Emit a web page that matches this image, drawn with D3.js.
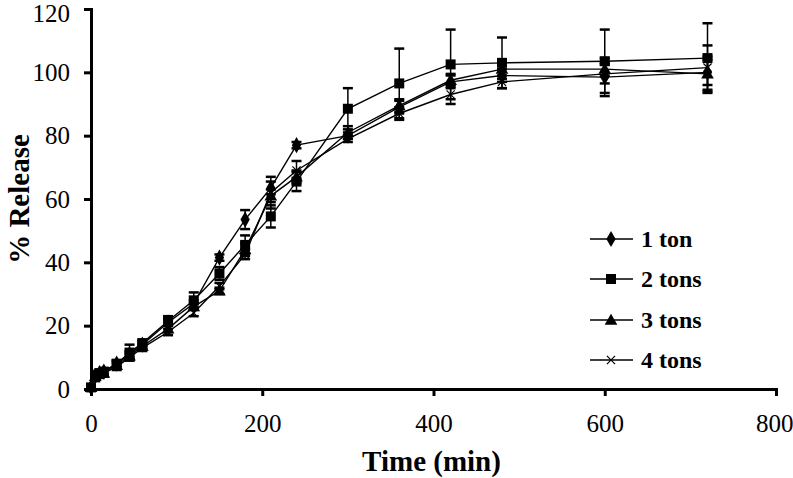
<!DOCTYPE html>
<html>
<head>
<meta charset="utf-8">
<script src="https://cdn.jsdelivr.net/npm/d3@7"></script>
<style>
  body { margin: 0; background: #fff; }
  svg { display: block; }
  text { font-family: "Liberation Serif", "Times New Roman", serif; fill: #000; }
</style>
</head>
<body>
<svg id="chart" width="793" height="478"></svg>
<script>
// sampling times (min)
const times = [0, 5, 10, 15, 30, 45, 60, 90, 120, 150, 180, 210, 240, 300, 360, 420, 480, 600, 720];

const seriesNames = ["1 ton", "2 tons", "3 tons", "4 tons"];
const seriesSymbols = ["diamond", "square", "triangle", "cross"];

// % release
const release1 = [0.5, 4, 5, 5.5, 8, 11, 14, 21, 27, 41.5, 53.5, 63.5, 77, 80, 89, 97, 99, 98.5, 100];
const release2 = [0.5, 4.5, 5, 5.5, 8, 11.5, 14.5, 21.5, 28, 36.5, 45.5, 54.5, 65.5, 88.5, 96.5, 102.5, 103, 103.5, 104.5];
const release3 = [0.5, 4, 5, 5, 7.5, 10.5, 13.5, 19, 26, 31, 44, 61, 67, 81, 89.5, 97.5, 101, 101, 99.5];
const release4 = [0.5, 3.5, 4.5, 5, 7, 10, 13, 18, 24, 32.5, 42.5, 62, 69, 79, 87, 93, 97, 99.5, 101.5];

// standard deviations
const sd1 = [0.5, 1, 1, 1, 1, 1, 1, 1, 1, 1, 3, 2, 1, 1, 2, 2, 2, 6, 4];
const sd2 = [0.5, 1, 1, 1, 1, 2.5, 1, 1.5, 2.5, 2, 3, 3.5, 3, 6.5, 11, 11, 8, 10, 11];
const sd3 = [0.5, 1, 1, 1, 1, 1, 1, 1, 1, 1, 2, 2, 2, 2, 2, 2, 3, 2, 5.5];
const sd4 = [0.5, 1, 1, 1, 1, 1, 1, 1, 1, 1, 1.5, 5, 3, 1, 2, 3, 2, 3, 7];

const xTicks = [0, 200, 400, 600, 800];
const yTicks = [0, 20, 40, 60, 80, 100, 120];

const xLabel = "Time (min)";
const yLabel = "% Release";

const series = [
  { name: seriesNames[0], symbol: seriesSymbols[0], values: release1, sd: sd1 },
  { name: seriesNames[1], symbol: seriesSymbols[1], values: release2, sd: sd2 },
  { name: seriesNames[2], symbol: seriesSymbols[2], values: release3, sd: sd3 },
  { name: seriesNames[3], symbol: seriesSymbols[3], values: release4, sd: sd4 }
];

const width = 793, height = 478;
const margin = { top: 9, right: 17, bottom: 89, left: 91 };

const svg = d3.select("#chart");

const x = d3.scaleLinear().domain([0, 800]).range([margin.left, width - margin.right]);
const y = d3.scaleLinear().domain([0, 120]).range([height - margin.bottom, margin.top]);

// draw a marker of the given kind at cx, cy
function drawMarker(g, kind, cx, cy) {
  if (kind === "diamond") {
    g.append("path")
      .attr("d", d3.symbol(d3.symbolDiamond, 75)())
      .attr("transform", "translate(" + cx + "," + cy + ")")
      .attr("fill", "#000");
  } else if (kind === "square") {
    g.append("rect")
      .attr("x", cx - 5).attr("y", cy - 5)
      .attr("width", 10).attr("height", 10)
      .attr("fill", "#000");
  } else if (kind === "triangle") {
    g.append("path")
      .attr("d", d3.symbol(d3.symbolTriangle, 70)())
      .attr("transform", "translate(" + cx + "," + (cy + 1) + ")")
      .attr("fill", "#000");
  } else {
    g.append("path")
      .attr("d", d3.symbol(d3.symbolTimes, 45)())
      .attr("transform", "translate(" + cx + "," + cy + ")")
      .attr("fill", "none")
      .attr("stroke", "#000")
      .attr("stroke-width", 1.2);
  }
}

const line = d3.line()
  .x((d, i) => x(times[i]))
  .y(d => y(d));

// error bars first, then lines and markers on top
series.forEach(s => {
  const g = svg.append("g").attr("stroke", "#000").attr("stroke-width", 1.5);
  s.values.forEach((v, i) => {
    const cx = x(times[i]);
    const top = y(v + s.sd[i]), bot = y(v - s.sd[i]);
    g.append("line").attr("x1", cx).attr("x2", cx).attr("y1", top).attr("y2", bot);
    g.append("line").attr("x1", cx - 5).attr("x2", cx + 5).attr("y1", top).attr("y2", top).attr("stroke-width", 2.5);
    g.append("line").attr("x1", cx - 5).attr("x2", cx + 5).attr("y1", bot).attr("y2", bot).attr("stroke-width", 2.5);
  });
});

series.forEach(s => {
  svg.append("path")
    .datum(s.values)
    .attr("d", line)
    .attr("fill", "none")
    .attr("stroke", "#000")
    .attr("stroke-width", 1.4);
  const g = svg.append("g");
  s.values.forEach((v, i) => drawMarker(g, s.symbol, x(times[i]), y(v)));
});

// axes
const xAxis = svg.append("g")
  .attr("transform", "translate(0," + y(0) + ")")
  .call(d3.axisBottom(x).tickValues(xTicks).tickSize(7).tickPadding(18));
const yAxis = svg.append("g")
  .attr("transform", "translate(" + x(0) + ",0)")
  .call(d3.axisLeft(y).tickValues(yTicks).tickSize(7).tickPadding(14));

[xAxis, yAxis].forEach(a => {
  a.select(".domain").attr("stroke", "#000").attr("stroke-width", 3);
  a.selectAll(".tick line").attr("stroke", "#000").attr("stroke-width", 3);
  a.selectAll(".tick text")
    .style("font-family", "'Liberation Serif', serif")
    .style("font-size", "25px")
    .attr("fill", "#000");
});
// keep the edge labels inside the picture
yAxis.selectAll(".tick text").filter(d => d === 120).attr("dy", "0.5em");
xAxis.selectAll(".tick text").filter(d => d === 800).attr("text-anchor", "end").attr("x", 17);

// axis titles
svg.append("text")
  .attr("x", (x(0) + x(800)) / 2 - 2)
  .attr("y", 471)
  .attr("text-anchor", "middle")
  .style("font-size", "29px")
  .style("font-weight", "bold")
  .text(xLabel);

svg.append("text")
  .attr("transform", "translate(29," + y(60) + ") rotate(-90)")
  .attr("text-anchor", "middle")
  .style("font-size", "29px")
  .style("font-weight", "bold")
  .text(yLabel);

// legend
const legend = svg.append("g");
const legendRows = [239, 279, 320, 360];
series.forEach((s, i) => {
  const ly = legendRows[i];
  legend.append("line")
    .attr("x1", 590).attr("x2", 633)
    .attr("y1", ly).attr("y2", ly)
    .attr("stroke", "#000").attr("stroke-width", 1.5);
  drawMarker(legend, s.symbol, 611, ly);
  legend.append("text")
    .attr("x", 641).attr("y", ly + 8)
    .style("font-size", "24px")
    .style("font-weight", "bold")
    .text(s.name);
});
</script>
</body>
</html>
